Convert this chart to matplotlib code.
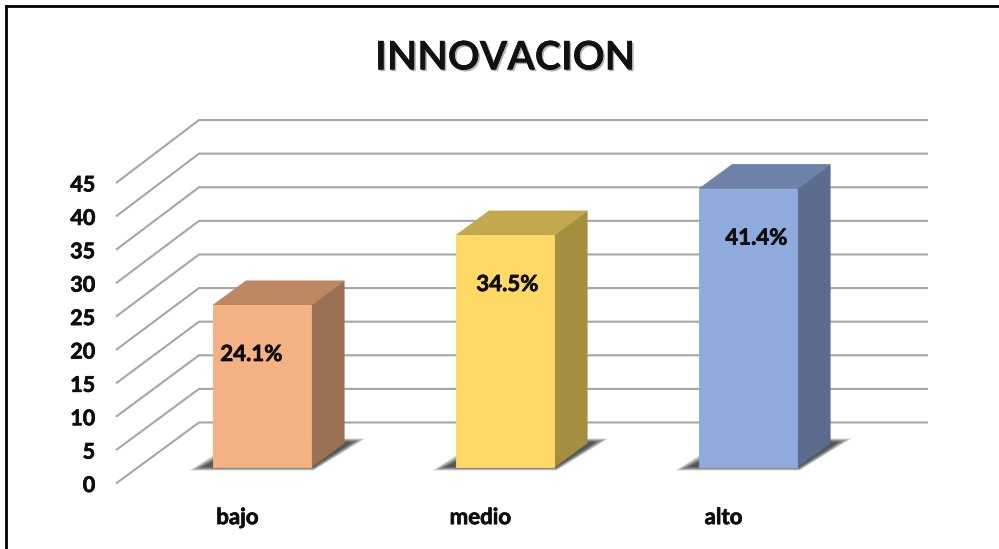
import matplotlib
matplotlib.use("Agg")
import matplotlib.pyplot as plt
import matplotlib.patheffects as pe
from matplotlib.lines import Line2D
from matplotlib.patches import Polygon

# ---- data ----
categories = ["bajo", "medio", "alto"]
values = [24.1, 34.5, 41.4]
value_labels = ["24.1%", "34.5%", "41.4%"]
y_ticks = [0, 5, 10, 15, 20, 25, 30, 35, 40, 45]
title = "INNOVACION"

# ---- style ----
front_colors = ["#F4B183", "#FFD966", "#8FAADC"]
top_colors = ["#BD8763", "#C4A850", "#6E81A8"]
side_colors = ["#9C7153", "#A48E40", "#5C6C8D"]
label_dx_px = [-11, 2, 8]
W, H = 999, 549
FONT = "Lato"
TEXT = "#0D0D0D"
plt.rcParams["font.family"] = [FONT, "DejaVu Sans"]
heavy = [pe.withStroke(linewidth=0.5, foreground=TEXT)]

fig = plt.figure(figsize=(W / 100, H / 100), dpi=100, facecolor="white")
L, R, B, T = 116, 845, 483.5, 183
ax = fig.add_axes([L / W, 1 - B / H, (R - L) / W, (B - T) / H])
ax.set_xlim(-0.5, 2.5)
ax.set_ylim(0, 45)
ax.patch.set_visible(False)
for s in ax.spines.values():
    s.set_visible(False)

px_x = (R - L) / 3      # pixels per category
px_y = (B - T) / 45     # pixels per value unit
DEPTH_X = 83 / px_x     # full floor depth in data units
DEPTH_Y = 61 / px_y
BACK_SCALE = 1.0065     # slight perspective growth toward the back wall
BAR_SCALE = 1.007


def proj(x, v, d, scale=None):
    """Oblique projection of a point at floor depth d (0 front, 1 back)."""
    k = 1 + d * (BACK_SCALE - 1) if scale is None else scale
    return (x + d * DEPTH_X, v * k + d * DEPTH_Y)


# grid: floor diagonal + back wall
for v in y_ticks:
    pts = [proj(-0.5, v, 0), proj(-0.5, v, 1), proj(2.5, v, 1)]
    ax.plot(*zip(*pts), color="#A6A6A6", lw=1.5, zorder=1, clip_on=False,
            solid_capstyle="butt", solid_joinstyle="miter")

# bars
D0, D1 = 0.27, 0.664
BAR_W = 98 / px_x
SHIFT = 2.5 / px_x
for i, (val, lab) in enumerate(zip(values, value_labels)):
    xl = i + SHIFT - BAR_W / 2
    xr = xl + BAR_W
    x0l, y0 = proj(xl, 0, D0)
    x0r = x0l + BAR_W
    # soft floor shadow, stacked translucent layers
    for k in range(7):
        g = k * 2.2 / px_x
        gy = k * 0.6 / px_y
        sh = [
            (x0l - 24 / px_x + g, y0 - 3.5 / px_y + gy),
            (x0r + 2 / px_x, y0 - 3.5 / px_y + gy),
            (x0r + 54 / px_x - g, y0 + 28.5 / px_y - gy),
            (x0l + 26 / px_x + g, y0 + 28.5 / px_y - gy),
        ]
        ax.add_patch(Polygon(sh, closed=True, fc="black", ec="none", alpha=0.14,
                             zorder=2, clip_on=False))
    front = [proj(xl, 0, D0, BAR_SCALE), proj(xr, 0, D0, BAR_SCALE),
             proj(xr, val, D0, BAR_SCALE), proj(xl, val, D0, BAR_SCALE)]
    top = [proj(xl, val, D0, BAR_SCALE), proj(xr, val, D0, BAR_SCALE),
           proj(xr, val, D1, BAR_SCALE), proj(xl, val, D1, BAR_SCALE)]
    side = [proj(xr, 0, D0, BAR_SCALE), proj(xr, 0, D1, BAR_SCALE),
            proj(xr, val, D1, BAR_SCALE), proj(xr, val, D0, BAR_SCALE)]
    ax.add_patch(Polygon(side, closed=True, fc=side_colors[i], ec=side_colors[i], lw=0.6, zorder=3, clip_on=False))
    ax.add_patch(Polygon(top, closed=True, fc=top_colors[i], ec=top_colors[i], lw=0.6, zorder=3, clip_on=False))
    ax.add_patch(Polygon(front, closed=True, fc=front_colors[i], ec=front_colors[i], lw=0.6, zorder=4, clip_on=False))
    ax.annotate(lab, xy=proj(i + SHIFT, val, D0, BAR_SCALE),
                xytext=(label_dx_px[i] * 0.72, -49.5 * 0.72),
                textcoords="offset points", ha="center", va="center",
                fontsize=16, fontweight="bold", color=TEXT, zorder=5,
                path_effects=heavy)

# axes ticks
ax.set_yticks(y_ticks)
ax.set_xticks(range(len(categories)))
ax.set_xticklabels(categories)
ax.tick_params(axis="y", length=0, pad=15, labelsize=15.5, labelcolor=TEXT)
ax.tick_params(axis="x", length=0, pad=17, labelsize=16, labelcolor=TEXT)
for t in ax.get_yticklabels() + ax.get_xticklabels():
    t.set_fontweight("bold")
    t.set_path_effects(heavy)

# title
fig.text(505.5 / W, 1 - 58 / H, title, ha="center", va="center", fontsize=28.5,
         fontweight="bold", color="#111111",
         path_effects=[pe.withSimplePatchShadow(offset=(1.2, -1.2), shadow_rgbFace="#000000", alpha=0.3),
                       pe.Normal()])

# outer frame (left and top only)
fig.add_artist(Line2D([6 / W, 6 / W], [0, 1 - 6 / H], color="black", lw=2,
                      solid_capstyle="projecting", transform=fig.transFigure))
fig.add_artist(Line2D([6 / W, 1], [1 - 6 / H, 1 - 6 / H], color="black", lw=2,
                      solid_capstyle="projecting", transform=fig.transFigure))

fig.savefig("out.png", dpi=100, facecolor="white")
